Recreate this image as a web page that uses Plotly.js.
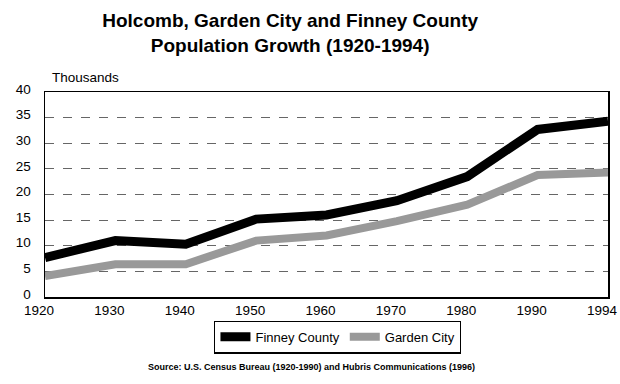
<!DOCTYPE html>
<html><head><meta charset="utf-8">
<script src="https://cdn.plot.ly/plotly-3.0.1.min.js"></script>
<style>body{margin:0;background:#fff}#c{width:620px;height:384px}</style>
</head><body><div id="c"></div>
<script>
var years = ['1920','1930','1940','1950','1960','1970','1980','1990','1994'];
var finneyCounty = [7.7, 11.0, 10.3, 15.2, 16.0, 18.8, 23.5, 32.7, 34.3];
var gardenCity = [4.1, 6.4, 6.4, 11.0, 12.0, 14.8, 18.0, 23.8, 24.3];
var yTicks = [0,5,10,15,20,25,30,35,40];

var F = 'Liberation Sans, Arial, sans-serif';
var data = [
  {x: years, y: finneyCounty, name: 'Finney County', mode: 'lines', type: 'scatter',
   line: {color: '#000000', width: 9}},
  {x: years, y: gardenCity, name: 'Garden City', mode: 'lines', type: 'scatter',
   line: {color: '#999999', width: 8}}
];
var layout = {
  width: 620, height: 384,
  margin: {l: 45, r: 12, t: 92, b: 87},
  paper_bgcolor: '#fff', plot_bgcolor: '#fff',
  font: {family: F, color: '#000', size: 13},
  title: {text: '<b>Holcomb, Garden City and Finney County<br>Population Growth (1920-1994)</b>',
          font: {family: F, size: 19, color: '#000'}, x: 0.468, xanchor: 'center', y: 0.93, yanchor: 'top'},
  xaxis: {type: 'category', range: [0, 8], showgrid: false, zeroline: false,
          showline: true, linecolor: '#000', linewidth: 1.5, mirror: true,
          ticks: '', ticklabelshift: -6, tickfont: {family: F, size: 13.5, color: '#000'}},
  yaxis: {range: [0, 40], tickvals: yTicks, showgrid: true, gridcolor: '#000', griddash: 'dash', gridwidth: 0.6,
          zeroline: false, showline: true, linecolor: '#000', linewidth: 1.5, mirror: true,
          ticks: '', ticklabelstandoff: 10, ticklabelshift: -3, tickfont: {family: F, size: 13.5, color: '#000'}},
  showlegend: true,
  legend: {orientation: 'h', x: 0.52, xanchor: 'center', y: -0.115, yanchor: 'top',
           bordercolor: '#000', borderwidth: 1.2, font: {family: F, size: 13, color: '#000'},
           itemwidth: 30, tracegroupgap: 0},
  annotations: [
    {text: 'Thousands', xref: 'paper', yref: 'paper', x: 0.008, y: 1.072, xanchor: 'left', yanchor: 'middle',
     showarrow: false, font: {family: F, size: 13.5, color: '#000'}},
    {text: '<b>Source: U.S. Census Bureau (1920-1990) and Hubris Communications (1996)</b>', xref: 'paper', yref: 'paper',
     x: 0.473, y: -0.34, xanchor: 'center', yanchor: 'middle', showarrow: false,
     font: {family: F, size: 9, color: '#000'}}
  ]
};
Plotly.newPlot('c', data, layout, {displayModeBar: false, staticPlot: true});
</script></body></html>
